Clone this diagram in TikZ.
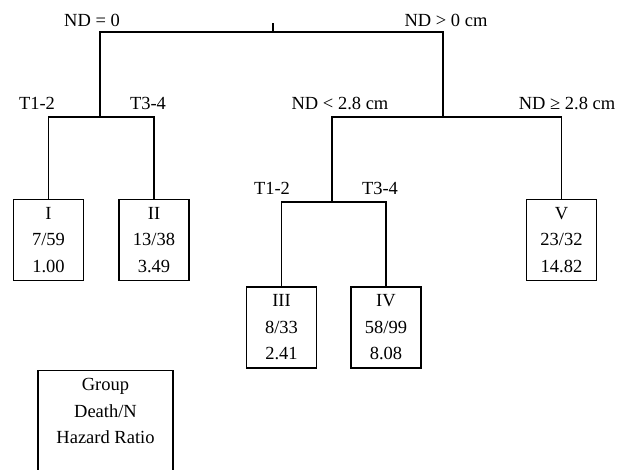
\documentclass[tikz,border=0pt]{standalone}
\usepackage{fontspec}
\setmainfont{Liberation Serif}
\usepackage{tikz}

\begin{document}
\begin{tikzpicture}[x=1pt,y=-1pt,line width=1.2pt,
                    every node/.style={font=\fontsize{18.5}{26.5}\selectfont},
                    group box/.style={draw,align=center,minimum width=70pt,minimum height=81pt,inner sep=0pt},
                    split label/.style={inner sep=0pt}]
  \useasboundingbox (0,0) rectangle (629,469);

  % groups
  \node[group box] (1) at (48.5,240) {I\\7/59\\1.00};
  \node[group box] (2) at (154,240) {II\\13/38\\3.49};
  \node[group box] (3) at (281.5,327.5) {III\\8/33\\2.41};
  \node[group box] (4) at (386,327.5) {IV\\58/99\\8.08};
  \node[group box] (5) at (561.5,240) {V\\23/32\\14.82};

  % split points
  \coordinate (root) at (273,23);
  \coordinate (top) at (273,32);
  \coordinate (nd0) at (100,117);
  \coordinate (nd1) at (443,117);
  \coordinate (nd2) at (332,202);

  \draw (root) -- (top);
  \draw (nd0) |- (top) -| (nd1);
  \draw (1) |- (nd0) -| (2);
  \draw (nd2) |- (nd1) -| (5);
  \draw (3) |- (nd2) -| (4);

  % split labels
  \node[split label] (l1) at (92,20) {ND = 0};
  \node[split label] (l2) at (446,20) {ND > 0 cm};
  \node[split label] (l3) at (37,103) {T1-2};
  \node[split label] (l4) at (148,103) {T3-4};
  \node[split label] (l5) at (340,103) {ND < 2.8 cm};
  \node[split label] (l6) at (567,103) {ND ≥ 2.8 cm};
  \node[split label] (l7) at (272,188) {T1-2};
  \node[split label] (l8) at (380,188) {T3-4};

  % key
  \node[draw,anchor=north,minimum width=135pt,minimum height=120pt] (key) at (105.5,370) {};
  \node[align=center,anchor=north,inner sep=0pt] (keytext) at (105.5,378) {Group\\Death/N\\Hazard Ratio};
\end{tikzpicture}
\end{document}
